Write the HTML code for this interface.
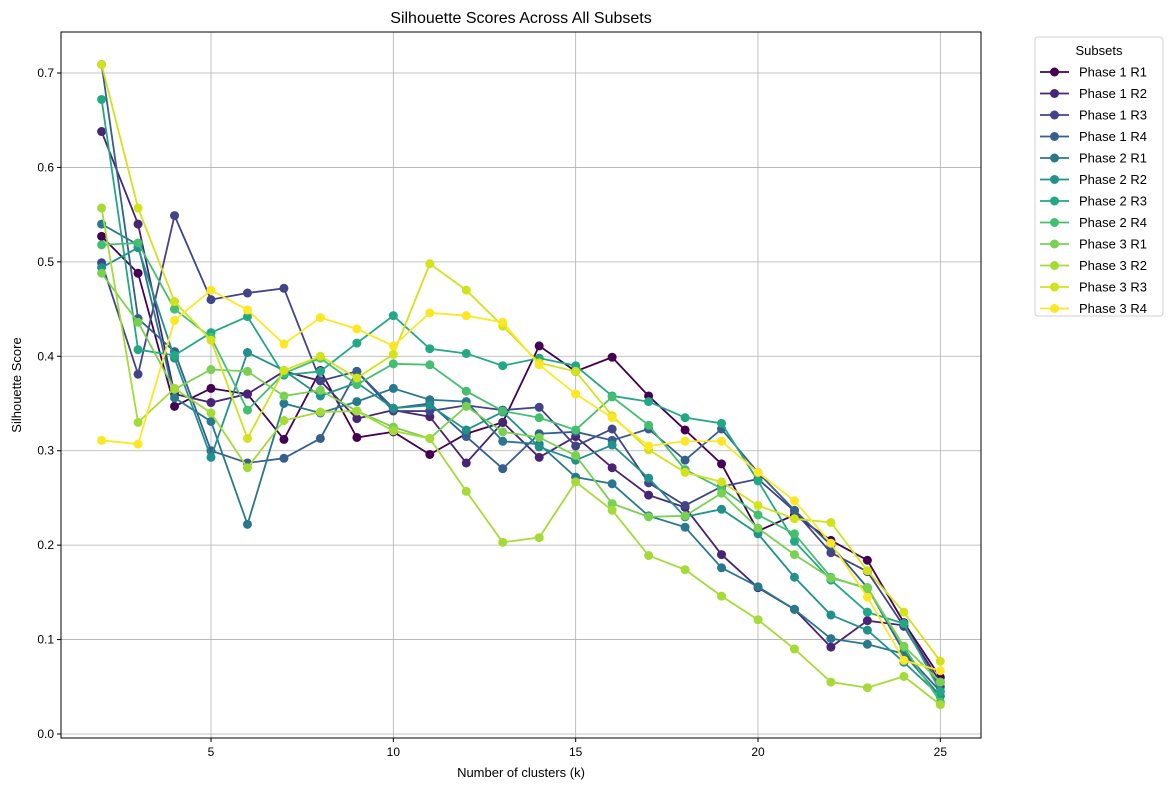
<!DOCTYPE html>
<html><head><meta charset="utf-8"><style>
body{margin:0;background:#fff;font-family:"Liberation Sans","DejaVu Sans",sans-serif}
svg text{font-family:"Liberation Sans","DejaVu Sans",sans-serif;fill:#000}
</style></head><body>
<svg id="c" width="1171" height="790" xmlns="http://www.w3.org/2000/svg"></svg>
<script>
const seriesNames=["Phase 1 R1","Phase 1 R2","Phase 1 R3","Phase 1 R4","Phase 2 R1","Phase 2 R2","Phase 2 R3","Phase 2 R4","Phase 3 R1","Phase 3 R2","Phase 3 R3","Phase 3 R4"];
const seriesColors=["#440154","#482475","#414487","#355f8d","#2a788e","#21918c","#22a884","#44bf70","#7ad151","#a5db36","#d2e21b","#fde725"];
const kValues=[2,3,4,5,6,7,8,9,10,11,12,13,14,15,16,17,18,19,20,21,22,23,24,25];
const p1r1=[.527,.488,.347,.366,.360,.312,.385,.314,.320,.296,.318,.330,.411,.384,.399,.358,.322,.286,.215,.232,.205,.184,.118,.060];
const p1r2=[.638,.540,.360,.351,.360,.384,.374,.334,.343,.336,.287,.330,.293,.315,.282,.253,.240,.190,.155,.132,.092,.120,.115,.055];
const p1r3=[.499,.381,.549,.460,.467,.472,.374,.384,.342,.342,.348,.343,.346,.305,.323,.266,.242,.262,.270,.236,.192,.172,.114,.050];
const p1r4=[.709,.440,.405,.300,.287,.292,.313,.384,.345,.350,.315,.281,.318,.320,.311,.323,.290,.323,.277,.237,.200,.155,.087,.045];
const p2r1=[.540,.518,.356,.331,.222,.350,.340,.352,.366,.354,.352,.310,.307,.272,.265,.231,.219,.176,.156,.132,.101,.095,.085,.040];
const p2r2=[.494,.515,.398,.293,.404,.385,.358,.372,.345,.348,.322,.341,.304,.290,.306,.271,.230,.238,.212,.166,.126,.110,.076,.040];
const p2r3=[.672,.407,.401,.425,.442,.380,.384,.414,.443,.408,.403,.390,.398,.390,.358,.352,.335,.329,.268,.204,.163,.129,.117,.045];
const p2r4=[.518,.520,.450,.420,.343,.382,.398,.370,.392,.391,.363,.342,.335,.322,.357,.327,.280,.260,.232,.212,.166,.154,.092,.034];
const p3r1=[.488,.436,.365,.386,.384,.358,.364,.342,.325,.313,.347,.320,.314,.295,.244,.230,.231,.255,.218,.190,.165,.155,.093,.055];
const p3r2=[.557,.330,.366,.340,.282,.332,.341,.342,.321,.313,.257,.203,.208,.267,.237,.189,.174,.146,.121,.090,.055,.049,.061,.031];
const p3r3=[.709,.557,.458,.417,.313,.385,.400,.377,.402,.498,.470,.432,.393,.384,.337,.301,.277,.267,.242,.228,.224,.173,.129,.077];
const p3r4=[.311,.307,.438,.470,.449,.413,.441,.429,.411,.446,.443,.436,.391,.360,.335,.305,.310,.310,.277,.247,.202,.145,.078,.067];
const seriesValues=[p1r1,p1r2,p1r3,p1r4,p2r1,p2r2,p2r3,p2r4,p3r1,p3r2,p3r3,p3r4];
const xTicks=[5,10,15,20,25];
const yTicks=[0.0,0.1,0.2,0.3,0.4,0.5,0.6,0.7];

const NS="http://www.w3.org/2000/svg";
const svg=document.getElementById('c');
const L=61,R=981,T=32,B=738;
const sx=k=>211+(k-5)*(758-211)/15;
const sy=v=>734-v*(734-73)/0.7;
function mk(tag,at,parent){const e=document.createElementNS(NS,tag);for(const a in at)e.setAttribute(a,at[a]);(parent||svg).appendChild(e);return e;}

const grid=mk('g',{});


xTicks.forEach(t=>{mk('line',{x1:sx(t),x2:sx(t),y1:T,y2:B,stroke:'#b0b0b0','stroke-width':0.8},grid);});
yTicks.forEach(t=>{mk('line',{x1:L,x2:R,y1:sy(t),y2:sy(t),stroke:'#b0b0b0','stroke-width':0.8},grid);});

const xa=mk('g',{});


xTicks.forEach(t=>{mk('line',{x1:sx(t),x2:sx(t),y1:B,y2:B+4,stroke:'#000'},xa);const tx=mk('text',{x:sx(t),y:B+18,'text-anchor':'middle','font-size':12},xa);tx.textContent=t;});
const ya=mk('g',{});


yTicks.forEach(t=>{mk('line',{x1:L-4,x2:L,y1:sy(t),y2:sy(t),stroke:'#000'},ya);const tx=mk('text',{x:L-7,y:sy(t)+4,'text-anchor':'end','font-size':12},ya);tx.textContent=t.toFixed(1);});

const plot=mk('g',{});


seriesValues.forEach((vals,i)=>{
  const g=mk('g',{},plot);
  
  
  mk('polyline',{points:vals.map((v,j)=>sx(kValues[j])+','+sy(v)).join(' '),fill:'none',stroke:seriesColors[i],'stroke-width':1.8},g);
  vals.forEach((v,j)=>{const c=mk('circle',{cx:sx(kValues[j]),cy:sy(v),r:4.5,fill:seriesColors[i]},g);
    
    });
});
const frame=mk('rect',{x:L,y:T,width:R-L,height:B-T,fill:'none',stroke:'#000','stroke-width':1});



const title=mk('text',{x:(L+R)/2,y:23,'text-anchor':'middle','font-size':16});
title.textContent='Silhouette Scores Across All Subsets';


const xt=mk('text',{x:(L+R)/2,y:777,'text-anchor':'middle','font-size':13});
xt.textContent='Number of clusters (k)';


const yt=mk('text',{x:0,y:0,'text-anchor':'middle','font-size':13,transform:'translate(21,385) rotate(-90)'});
yt.textContent='Silhouette Score';



const lg=mk('g',{});


mk('rect',{x:1035,y:37,width:128,height:279,rx:3,fill:'#fff',stroke:'#d0d0d0'},lg);
const lt=mk('text',{x:1099,y:55,'text-anchor':'middle','font-size':13},lg);
lt.textContent='Subsets';
seriesNames.forEach((n,i)=>{
  const y=72+i*21.5;
  const e=mk('g',{},lg);
  
  
  mk('line',{x1:1040,x2:1069,y1:y,y2:y,stroke:seriesColors[i],'stroke-width':1.8},e);
  mk('circle',{cx:1054.5,cy:y,r:4.5,fill:seriesColors[i]},e);
  const t=mk('text',{x:1079,y:y+4.5,'font-size':13},e);t.textContent=n;
});
</script>
</body></html>
